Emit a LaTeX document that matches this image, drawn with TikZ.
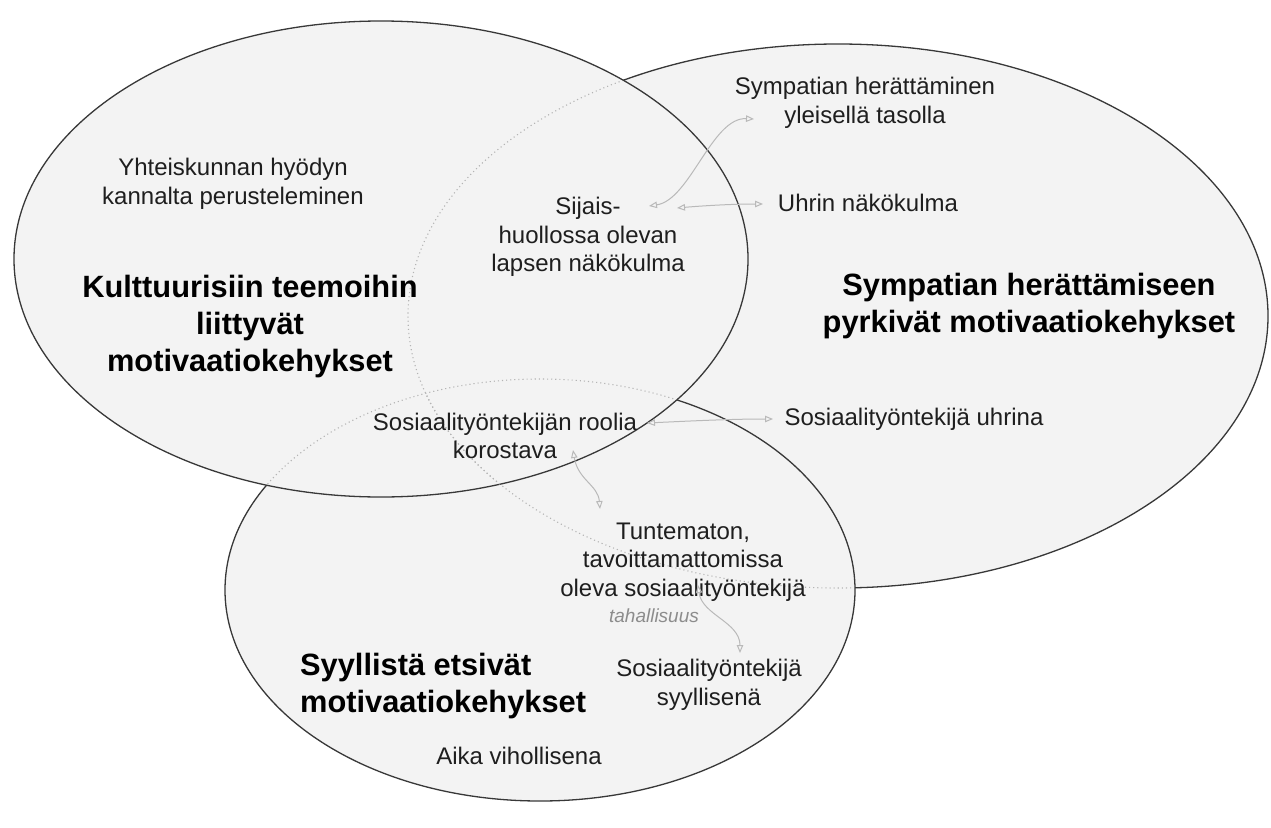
\documentclass[tikz,border=0pt]{standalone}
\usepackage{fontspec}
\setmainfont{Liberation Sans}
\usetikzlibrary{arrows.meta}
\definecolor{efill}{HTML}{F3F3F3}
\definecolor{eline}{HTML}{383838}
\definecolor{dotc}{HTML}{B4B4B4}
\definecolor{arrc}{HTML}{B9B9B9}
\definecolor{txt}{HTML}{1E1E1E}
\definecolor{itc}{HTML}{8C8C8C}
\begin{document}
\begin{tikzpicture}[x=1pt,y=-1pt,
  ell/.style={fill=efill, draw=eline, line width=1.3pt},
  hid/.style={draw=dotc, line width=1.1pt, dash pattern=on 1.1pt off 3pt},
  lbl/.style={align=center, font=\fontsize{24}{28.5}\selectfont, text=txt, inner sep=0pt},
  ttl/.style={align=center, font=\bfseries\fontsize{30.8}{37}\selectfont, text=black, inner sep=0pt},
  link/.style={draw=arrc, line width=1pt, {Triangle[open,length=8pt,width=6.5pt]}-{Triangle[open,length=8pt,width=6.5pt]}}
]
\useasboundingbox[fill=white] (0,0) rectangle (1271,827);
% ellipses, back to front
\path[ell] (838,316) ellipse [x radius=430, y radius=272];
\path[ell] (540,590) ellipse [x radius=315, y radius=211];
\path[ell] (381,259) ellipse [x radius=367, y radius=238];
% hidden outlines
\begin{scope}
  \clip (381,259) ellipse [x radius=366, y radius=237];
  \path[hid] (838,316) ellipse [x radius=430, y radius=272];
  \path[hid] (540,590) ellipse [x radius=315, y radius=211];
\end{scope}
\begin{scope}
  \clip (540,590) ellipse [x radius=314, y radius=210];
  \path[hid] (838,316) ellipse [x radius=430, y radius=272];
\end{scope}
% labels
\node[lbl] (yht) at (233,184) {Yhteiskunnan hyödyn\\kannalta perusteleminen};
\node[ttl] (kul) at (250,327) {Kulttuurisiin teemoihin\\liittyvät\\motivaatiokehykset};
\node[lbl] (sij) at (588,237) {Sijais-\\huollossa olevan\\lapsen näkökulma};
\node[lbl] (sym) at (865,103) {Sympatian herättäminen\\yleisellä tasolla};
\node[lbl] (uhr) at (868,203) {Uhrin näkökulma};
\node[ttl] (spt) at (1029,306) {Sympatian herättämiseen\\pyrkivät motivaatiokehykset};
\node[lbl] (rol) at (505,436) {Sosiaalityöntekijän roolia\\korostava};
\node[lbl] (suh) at (914,419) {Sosiaalityöntekijä uhrina};
\node[lbl] (tun) at (683,562) {Tuntematon,\\tavoittamattomissa\\oleva sosiaalityöntekijä};
\node[font=\itshape\fontsize{19}{22}\selectfont, text=itc, inner sep=0pt] (tah) at (654,616) {tahallisuus};
\node[ttl, align=left, anchor=west] (syy) at (300,686) {Syyllistä etsivät\\motivaatiokehykset};
\node[lbl] (ssy) at (709,685) {Sosiaalityöntekijä\\syyllisenä};
\node[lbl] (aik) at (519,756) {Aika vihollisena};
% connector ends
\coordinate (a1s) at (649,206);
\coordinate (a1e) at (754,119);
\coordinate (a2s) at (677,208);
\coordinate (a2e) at (763,204);
\coordinate (a3s) at (647,423);
\coordinate (a3e) at (773,419);
\coordinate (a4s) at (573,450);
\coordinate (a4e) at (600,509);
\coordinate (a5s) at (698,585);
\coordinate (a5e) at (740,653);
\draw[link] (a1s) .. controls (690,200) and (712,117) .. (a1e);
\draw[link] (a2s) .. controls (700,206) and (730,204) .. (a2e);
\draw[link] (a3s) .. controls (690,421) and (730,419) .. (a3e);
\draw[link] (a4s) .. controls (578,480) and (598,485) .. (a4e);
\draw[link] (a5s) .. controls (702,615) and (740,622) .. (a5e);
\end{tikzpicture}
\end{document}
